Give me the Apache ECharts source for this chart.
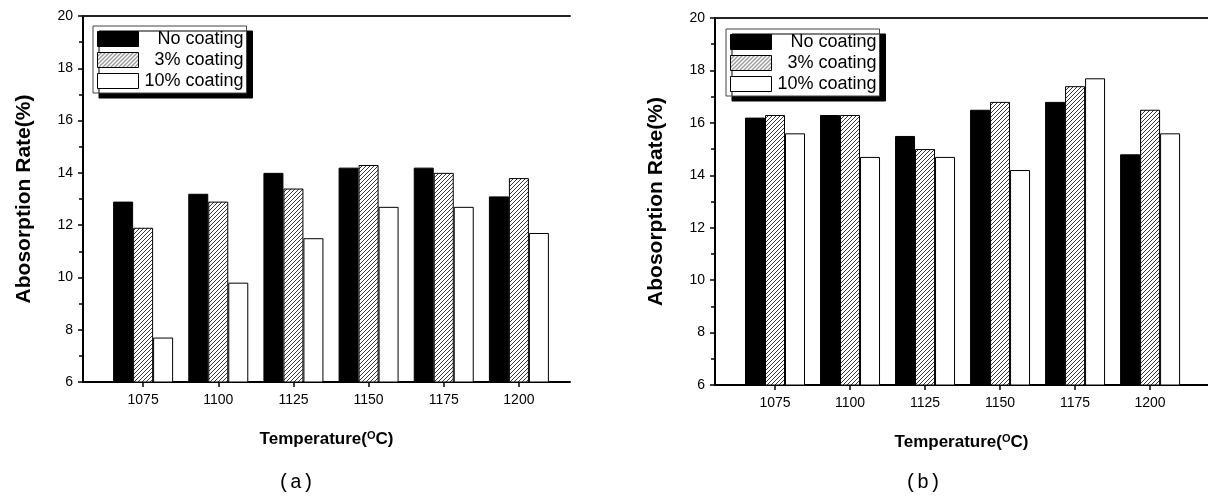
<!DOCTYPE html>
<html><head><meta charset="utf-8">
<script src="https://cdn.jsdelivr.net/npm/echarts@6/dist/echarts.min.js"></script>
<style>html,body{margin:0;padding:0;background:#fff}#c{width:1208px;height:498px}</style>
</head><body><div id="c"></div>
<script>
// ---- data ----
const temperatures = [1075, 1100, 1125, 1150, 1175, 1200];
const seriesNames = ['No coating', '3% coating', '10% coating'];
const yTicks = [6, 8, 10, 12, 14, 16, 18, 20];
const panelLabels = ['(a)', '(b)'];
const yTitle = 'Abosorption Rate(%)';
const a_noCoating = [12.9, 13.2, 14.0, 14.2, 14.2, 13.1];
const a_coating3  = [11.9, 12.9, 13.4, 14.3, 14.0, 13.8];
const a_coating10 = [7.7, 9.8, 11.5, 12.7, 12.7, 11.7];
const b_noCoating = [16.2, 16.3, 15.5, 16.5, 16.8, 14.8];
const b_coating3  = [16.3, 16.3, 15.0, 16.8, 17.4, 16.5];
const b_coating10 = [15.6, 14.7, 14.7, 14.2, 17.7, 15.6];

function hatch() {
  const c = document.createElement('canvas'); c.width = 4; c.height = 4;
  const g = c.getContext('2d');
  g.fillStyle = '#fff'; g.fillRect(0, 0, 4, 4);
  g.strokeStyle = '#3a3a3a'; g.lineWidth = 1;
  g.beginPath();
  g.moveTo(0, 4); g.lineTo(4, 0);
  g.moveTo(-1, 1); g.lineTo(1, -1);
  g.moveTo(3, 5); g.lineTo(5, 3);
  g.stroke();
  return c;
}
const hatchImg = hatch();
const fills = ['#000', { image: hatchImg, repeat: 'repeat' }, '#fff'];

const FONT = 'Liberation Sans, Arial, sans-serif';
const grids = [
  { left: 83, top: 16, width: 487, height: 366 },
  { left: 715, top: 18, width: 493, height: 367 }
];
const xRanges = [[1055, 1217], [1055, 1219.3]];
const panels = [[a_noCoating, a_coating3, a_coating10], [b_noCoating, b_coating3, b_coating10]];

const xAxes = [], yAxes = [], series = [], legends = [];
panels.forEach((p, gi) => {
  xAxes.push({
    gridIndex: gi, type: 'value', position: 'bottom',
    min: xRanges[gi][0], max: xRanges[gi][1],
    name: 'Temperature({s|O}C)', nameLocation: 'middle', nameGap: 48,
    nameTextStyle: { fontFamily: FONT, fontWeight: 'bold', fontSize: 17, color: '#000',
      rich: { s: { fontFamily: FONT, fontWeight: 'bold', fontSize: 11, color: '#000', verticalAlign: 'top', padding: [0, 0, 8, 0] } } },
    axisLine: { show: true, lineStyle: { color: '#000', width: 2 } },
    axisTick: { show: true, length: 5, lineStyle: { color: '#000', width: 1.5 }, customValues: temperatures },
    axisLabel: { fontFamily: FONT, fontSize: 14, color: '#000', margin: 11, customValues: temperatures,
      formatter: v => String(v) },
    splitLine: { show: false }
  });
  xAxes.push({
    gridIndex: gi, type: 'value', position: 'top',
    min: xRanges[gi][0], max: xRanges[gi][1],
    axisLine: { show: true, lineStyle: { color: '#222', width: 2 } },
    axisTick: { show: false }, axisLabel: { show: false }, splitLine: { show: false }
  });
  yAxes.push({
    gridIndex: gi, type: 'value', min: yTicks[0], max: yTicks[yTicks.length - 1], interval: 2,
    name: yTitle, nameLocation: 'middle', nameRotate: 90, nameGap: 48,
    nameTextStyle: { fontFamily: FONT, fontWeight: 'bold', fontSize: 21, color: '#000' },
    axisLine: { show: true, lineStyle: { color: '#000', width: 2 } },
    axisTick: { show: true, length: 5, lineStyle: { color: '#000', width: 1.5 } },
    minorTick: { show: true, splitNumber: 2, length: 4, lineStyle: { color: '#000', width: 1.5 } },
    axisLabel: { fontFamily: FONT, fontSize: 14, color: '#000', margin: 10 },
    splitLine: { show: false }
  });
  p.forEach((vals, si) => {
    series.push({
      type: 'bar', name: seriesNames[si], xAxisIndex: gi * 2, yAxisIndex: gi,
      barWidth: 20, barGap: '0%',
      itemStyle: { color: fills[si], borderColor: '#000', borderWidth: 1 },
      emphasis: { disabled: true },
      data: temperatures.map((t, i) => [t, vals[i]])
    });
  });
});

const legendPos = [{ left: 93, top: 26 }, { left: 726, top: 29 }];
legendPos.forEach(pos => {
  legends.push(Object.assign({
    orient: 'vertical', data: seriesNames, selectedMode: false,
    icon: 'rect', itemWidth: 41, itemHeight: 15, itemGap: 3,
    padding: [4, 3, 3, 4],
    backgroundColor: '#fff', borderColor: '#444', borderWidth: 1,
    shadowColor: '#000', shadowBlur: 0, shadowOffsetX: 6, shadowOffsetY: 5,
    itemStyle: { borderColor: '#000', borderWidth: 1 },
    formatter: n => '{r|' + n + '}',
    textStyle: { fontFamily: FONT, fontSize: 18, color: '#000', lineHeight: 18,
      rich: { r: { fontFamily: FONT, fontSize: 18, color: '#000', width: 100, align: 'right', lineHeight: 18 } } }
  }, pos));
});

const chart = echarts.init(document.getElementById('c'), null, { renderer: 'canvas' });
chart.setOption({
  animation: false,
  backgroundColor: '#fff',
  grid: grids,
  xAxis: xAxes,
  yAxis: yAxes,
  legend: legends,
  series: series,
  graphic: [
    { type: 'text', left: 278, top: 473, style: { text: panelLabels[0], font: '20px "Liberation Mono", monospace', fill: '#000' } },
    { type: 'text', left: 905, top: 473, style: { text: panelLabels[1], font: '20px "Liberation Mono", monospace', fill: '#000' } }
  ]
});
</script>
</body></html>
